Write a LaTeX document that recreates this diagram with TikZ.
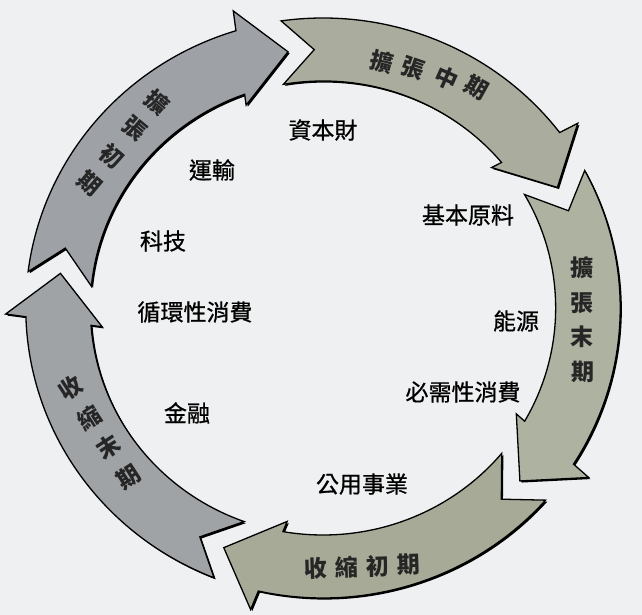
\documentclass[tikz,border=0pt]{standalone}
\usepackage{fontspec}
\setmainfont{Noto Sans CJK TC}
\newfontfamily\cjk[FakeBold=0.8]{Noto Sans CJK TC}
\newfontfamily\cjkbold{Noto Sans CJK TC}
\definecolor{bgcol}{RGB}{239,240,241}
\definecolor{cA}{RGB}{158,162,167}
\definecolor{cB}{RGB}{170,173,157}
\definecolor{cC}{RGB}{173,178,161}
\definecolor{cD}{RGB}{166,170,150}
\definecolor{cE}{RGB}{160,163,166}
% #1 = notch angle of the tail, #2 = tip angle of the head
\newcommand\cyclepath[2]{%
 (#1+6.2:290pt) arc[start angle=#1+6.2, end angle=#2+9.43, radius=290pt]
 -- (#2+8.82:309.7pt) -- (#2:258.5pt) -- (#2+12.69:216.3pt) -- (#2+12.08:227pt)
 arc[start angle=#2+12.08, end angle=#1+7.9, radius=227pt]
 -- (#1:258.5pt) -- cycle}
\begin{document}
\begin{tikzpicture}[x=1pt,y=1pt,
  lab/.style={font=\cjk\fontsize{23}{23}\selectfont, inner sep=0pt},
  alab/.style={font=\cjkbold\bfseries\fontsize{23}{23}\selectfont, inner sep=0pt, text=black!85},
  arrowbody/.style={draw=black, line width=1.3pt, line join=miter},
  shadowbody/.style={fill=black, shift={(1.6pt,-1.6pt)}},
]
\fill[bgcol] (-323,-307) rectangle (319,308);
\useasboundingbox (-323,-307) rectangle (319,308);

\begin{scope}[xscale=1.025]
  \fill[shadowbody] \cyclepath{166.6}{97.6};
  \fill[shadowbody] \cyclepath{91.9}{27.8};
  \fill[shadowbody] \cyclepath{22.1}{-42};
  \fill[shadowbody] \cyclepath{-47.7}{-112};
  \fill[shadowbody] \cyclepath{242.3}{172.3};
  \path[arrowbody, fill=cA] \cyclepath{166.6}{97.6};
  \path[arrowbody, fill=cB] \cyclepath{91.9}{27.8};
  \path[arrowbody, fill=cC] \cyclepath{22.1}{-42};
  \path[arrowbody, fill=cD] \cyclepath{-47.7}{-112};
  \path[arrowbody, fill=cE] \cyclepath{242.3}{172.3};
\end{scope}

% arrow labels
\node[alab, rotate=-40] (a1c1) at (-166,206) {擴};
\node[alab, rotate=-40] (a1c2) at (-188.3,179) {張};
\node[alab, rotate=-40] (a1c3) at (-210.7,152) {初};
\node[alab, rotate=-40] (a1c4) at (-233,125) {期};

\node[alab, rotate=-14] (a2c1) at (59,246) {擴};
\node[alab, rotate=-19] (a2c2) at (90,240) {張};
\node[alab, rotate=-24] (a2c3) at (124,230) {中};
\node[alab, rotate=-29] (a2c4) at (154,220) {期};

\node[alab] (a3c1) at (259,40) {擴};
\node[alab] (a3c2) at (259,5) {張};
\node[alab] (a3c3) at (259,-29) {末};
\node[alab] (a3c4) at (260,-64) {期};

\node[alab, rotate=2] (a4c1) at (-7,-260) {收};
\node[alab, rotate=2] (a4c2) at (24,-259) {縮};
\node[alab, rotate=2] (a4c3) at (55,-258) {初};
\node[alab, rotate=2] (a4c4) at (86,-257) {期};

\node[alab, rotate=33] (a5c1) at (-253,-80) {收};
\node[alab, rotate=33] (a5c2) at (-233.7,-109.7) {縮};
\node[alab, rotate=33] (a5c3) at (-214.3,-139.3) {末};
\node[alab, rotate=33] (a5c4) at (-195,-169) {期};

% sector labels
\node[lab] (capital) at (0,178) {資本財};
\node[lab] (transport) at (-111,138) {運輸};
\node[lab] (tech) at (-160,67) {科技};
\node[lab] (cyclical) at (-128,-4) {循環性消費};
\node[lab] (finance) at (-136,-105) {金融};
\node[lab] (utilities) at (39,-176) {公用事業};
\node[lab] (staples) at (140,-84) {必需性消費};
\node[lab] (energy) at (193,-13) {能源};
\node[lab] (materials) at (145,93) {基本原料};
\end{tikzpicture}
\end{document}
